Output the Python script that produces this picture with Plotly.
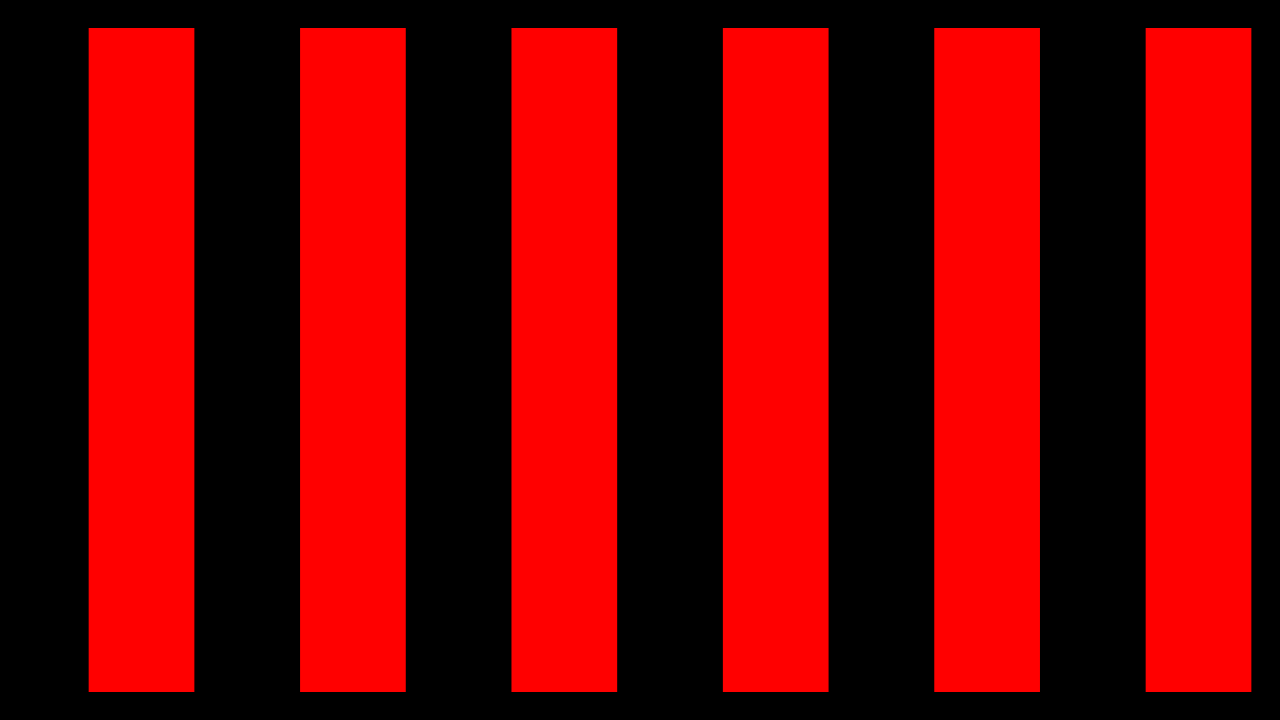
import plotly.graph_objects as go

# six equal bars
categories = [0, 1, 2, 3, 4, 5]
values = [10, 10, 10, 10, 10, 10]

fig = go.Figure()
fig.add_trace(go.Bar(x=categories, y=values, marker=dict(color="#ff0000", line=dict(width=0)),
                     hoverinfo="skip"))

fig.update_layout(
    width=1280, height=720,
    paper_bgcolor="black", plot_bgcolor="black",
    margin=dict(l=28, r=28, t=28, b=28),
    bargap=0.5,
    showlegend=False,
    xaxis=dict(range=[-0.537, 5.253], visible=False, showgrid=False, zeroline=False),
    yaxis=dict(range=[0, 10], visible=False, showgrid=False, zeroline=False),
)

# page has a default 8px white margin; drop it so the black fills the window
fig.write_html("out.html", config={"displayModeBar": False},
               post_script="document.body.style.margin='0';document.body.style.background='black';")
